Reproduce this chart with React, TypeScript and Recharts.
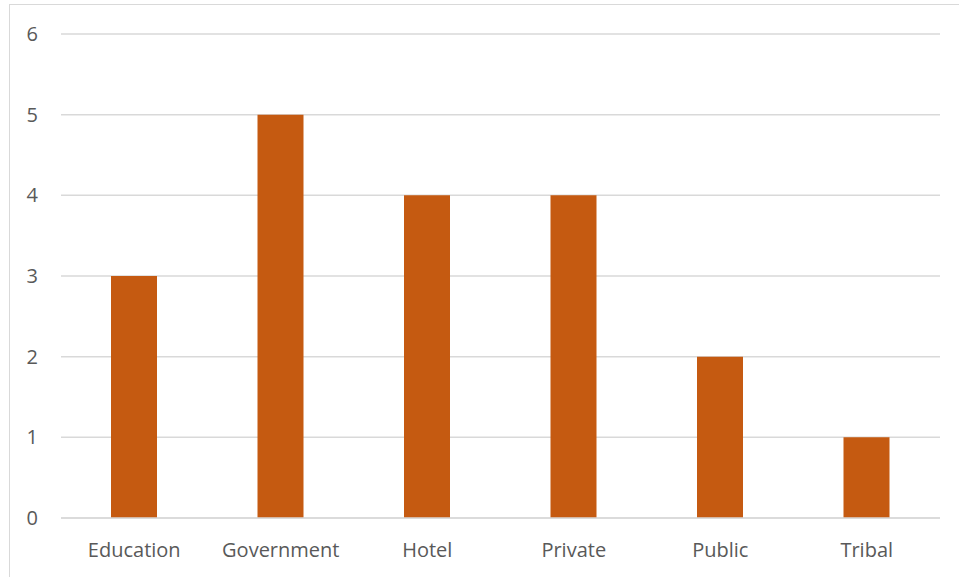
import { Bar, BarChart, CartesianGrid, XAxis, YAxis } from "recharts";

const categories = ["Education", "Government", "Hotel", "Private", "Public", "Tribal"];
const counts = [3, 5, 4, 4, 2, 1];
const yTicks = [0, 1, 2, 3, 4, 5, 6];

const FONT = "'Open Sans', sans-serif";
const LABEL_COLOR = "#595959";
const GRID_COLOR = "#d9d9d9";
const BAR_COLOR = "#c55a11";

export default function App() {
  const data = categories.map((name, i) => ({ name, value: counts[i] }));

  return (
    <div
      style={{
        position: "absolute",
        left: 0,
        top: 0,
        width: 959,
        height: 577,
        background: "#fff",
        overflow: "hidden",
        fontFamily: FONT,
      }}
    >
      <div
        style={{
          position: "absolute",
          left: 9,
          top: 4,
          width: 960,
          height: 580,
          borderLeft: `1px solid ${GRID_COLOR}`,
          borderTop: `1px solid ${GRID_COLOR}`,
        }}
      />
      <div style={{ position: "absolute", left: 0, top: 0 }}>
        <BarChart
          width={959}
          height={577}
          data={data}
          margin={{ top: 34, right: 19, bottom: 0, left: 0 }}
        >
          <CartesianGrid stroke={GRID_COLOR} strokeWidth={1.5} vertical={false} />
          <XAxis
            dataKey="name"
            height={59}
            axisLine={{ stroke: GRID_COLOR, strokeWidth: 1.5 }}
            tickLine={false}
            tickMargin={19}
            interval={0}
            tick={{ fill: LABEL_COLOR, fontSize: 20, fontFamily: FONT }}
          />
          <YAxis
            width={61}
            domain={[0, 6]}
            ticks={yTicks}
            axisLine={false}
            tickLine={false}
            tickMargin={17}
            interval={0}
            tick={{ fill: LABEL_COLOR, fontSize: 20, fontFamily: FONT }}
          />
          <Bar dataKey="value" fill={BAR_COLOR} barSize={46} isAnimationActive={false} />
        </BarChart>
      </div>
    </div>
  );
}
